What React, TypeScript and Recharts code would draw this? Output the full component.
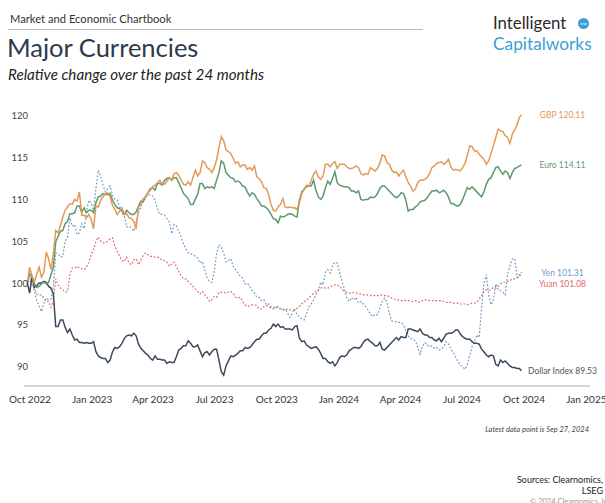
import React from 'react';
import { LineChart, Line, XAxis, YAxis } from 'recharts';

// Weekly readings (every Tuesday from Sep 27, 2022), last value = Sep 27, 2024
const START = Date.UTC(2022, 8, 27);
const WEEK = 7 * 86400000;
const LAST_DATE = Date.UTC(2024, 8, 27);

const gbp = [100.0, 100.8, 101.1, 100.7, 103.7, 101.6, 106.3, 106.9, 108.7, 109.5,
  110.0, 110.9, 108.1, 108.2, 106.5, 109.1, 110.3, 110.8, 109.3, 108.2,
  109.0, 108.3, 107.7, 106.5, 109.4, 110.3, 111.1, 111.7, 112.3, 111.8,
  112.6, 113.1, 112.9, 111.8, 112.1, 112.6, 112.8, 114.6, 113.8, 113.2,
  114.7, 117.5, 115.9, 115.5, 114.3, 113.9, 114.1, 113.8, 114.0, 112.5,
  111.4, 110.6, 108.7, 109.1, 110.1, 109.0, 109.0, 108.8, 110.7, 111.7,
  112.3, 113.4, 112.4, 114.2, 113.9, 114.5, 114.2, 114.2, 113.7, 113.8,
  113.8, 112.9, 113.0, 113.6, 113.7, 115.3, 114.4, 113.5, 113.3, 113.2,
  112.7, 111.6, 111.2, 112.3, 112.4, 113.1, 114.0, 114.4, 114.2, 114.8,
  113.5, 113.5, 113.8, 115.3, 116.3, 115.8, 115.1, 114.2, 115.5, 117.4,
  118.2, 117.6, 116.7, 118.3, 119.8, 120.11];
// Mid-week readings (half a week after each weekly reading)
const gbpMid = [101.9, 100.1, 101.9, 101.3, 102.9, 103.5, 106.0, 107.9, 109.1, 109.4,
  109.8, 108.1, 107.8, 107.6, 109.2, 109.9, 110.7, 110.3, 108.8, 108.6,
  108.2, 107.8, 107.4, 109.1, 110.1, 110.8, 111.5, 112.0, 111.8, 112.2,
  112.3, 113.2, 112.3, 111.7, 111.7, 113.5, 113.2, 114.4, 113.6, 113.8,
  116.2, 117.0, 115.7, 114.9, 114.5, 114.1, 113.6, 113.5, 112.7, 112.1,
  111.3, 109.4, 108.6, 109.4, 109.1, 109.1, 109.0, 109.6, 111.2, 111.6,
  113.0, 112.7, 112.8, 114.2, 114.3, 113.7, 114.2, 113.9, 113.7, 114.0,
  113.1, 113.1, 113.8, 113.4, 114.3, 115.2, 114.2, 113.2, 112.8, 113.5,
  112.0, 111.0, 112.0, 112.3, 112.6, 113.8, 114.3, 114.5, 114.4, 113.9,
  113.6, 113.4, 114.3, 116.4, 115.8, 115.4, 114.8, 114.6, 116.4, 118.4,
  118.1, 117.4, 117.8, 118.9];

const euro = [100.0, 100.7, 99.5, 99.9, 99.9, 101.0, 104.9, 106.2, 107.1, 108.3,
  108.4, 109.2, 109.0, 108.7, 108.4, 110.3, 110.7, 110.6, 109.9, 109.0,
  108.6, 108.7, 108.2, 108.5, 109.8, 110.4, 111.3, 111.1, 111.9, 112.3,
  112.6, 112.6, 112.0, 110.7, 110.1, 109.4, 110.6, 111.9, 111.5, 111.5,
  112.3, 114.6, 113.2, 112.6, 112.1, 112.0, 111.5, 110.4, 110.6, 109.7,
  109.2, 108.7, 107.7, 107.2, 107.9, 108.2, 108.2, 107.9, 110.9, 111.5,
  111.6, 111.1, 110.0, 111.4, 111.8, 113.3, 111.7, 111.5, 111.4, 111.0,
  111.0, 109.9, 110.0, 110.2, 110.7, 111.6, 111.3, 110.7, 110.2, 110.8,
  109.9, 108.8, 109.1, 109.7, 109.9, 110.6, 111.0, 110.8, 111.1, 110.3,
  109.5, 109.2, 110.0, 111.4, 111.5, 110.9, 110.3, 111.8, 112.6, 113.8,
  113.4, 113.4, 112.5, 113.7, 114.0, 114.11];
const euroMid = [101.1, 99.9, 99.6, 100.1, 100.1, 101.9, 105.6, 106.3, 107.4, 108.3,
  109.2, 108.5, 108.4, 108.7, 109.6, 110.4, 110.6, 110.7, 109.4, 108.9,
  108.2, 108.4, 108.2, 109.2, 109.7, 110.8, 111.4, 111.9, 111.7, 112.5,
  112.3, 112.6, 111.4, 110.4, 109.4, 110.0, 111.9, 111.3, 111.4, 111.3,
  113.2, 114.3, 112.9, 112.5, 112.2, 111.6, 110.9, 110.8, 110.1, 109.2,
  109.0, 108.2, 107.6, 108.0, 108.0, 108.3, 108.0, 109.9, 111.2, 111.6,
  112.3, 110.3, 110.4, 112.2, 112.5, 112.0, 111.6, 111.5, 111.0, 110.8,
  110.0, 110.0, 110.3, 110.3, 111.3, 111.6, 111.0, 110.4, 110.4, 110.7,
  108.6, 108.8, 109.3, 109.8, 110.2, 111.0, 111.1, 110.9, 110.8, 109.5,
  109.3, 109.4, 110.7, 111.2, 111.2, 110.6, 110.9, 112.4, 113.2, 113.9,
  113.0, 113.2, 113.2, 113.8];

const yen = [100.0, 100.1, 97.9, 96.6, 98.2, 98.1, 103.6, 103.1, 105.0, 107.8,
  107.0, 106.0, 106.5, 109.9, 108.7, 113.5, 111.7, 111.3, 110.5, 109.9,
  108.4, 106.7, 106.6, 107.3, 109.1, 110.1, 110.5, 109.9, 108.2, 108.1,
  107.3, 107.0, 106.2, 104.7, 103.6, 103.4, 103.0, 102.6, 100.6, 100.1,
  103.5, 104.3, 102.5, 102.9, 101.6, 100.8, 99.9, 99.6, 98.8, 98.3,
  98.0, 97.5, 97.1, 97.2, 96.8, 96.4, 96.4, 96.2, 95.7, 96.3,
  97.5, 98.6, 100.1, 101.3, 101.2, 102.5, 101.3, 99.3, 97.8, 98.0,
  97.6, 97.5, 96.8, 96.0, 96.2, 97.8, 97.7, 95.5, 95.4, 95.3,
  94.3, 93.4, 93.1, 91.5, 92.9, 92.4, 92.2, 92.0, 92.4, 92.7,
  91.7, 90.6, 90.0, 90.3, 92.4, 93.8, 97.0, 101.0, 97.4, 99.9,
  99.1, 98.6, 102.1, 102.9, 100.7, 101.31];
const yenMid = [100.9, 99.0, 97.3, 97.6, 98.0, 99.5, 103.5, 103.2, 105.5, 106.8,
  105.8, 107.1, 108.6, 109.5, 111.3, 112.8, 110.9, 111.6, 110.0, 109.2,
  108.0, 106.8, 106.2, 108.4, 109.9, 110.6, 110.4, 108.9, 108.2, 107.7,
  105.9, 106.8, 105.5, 104.1, 103.5, 103.2, 102.4, 101.6, 100.2, 101.4,
  104.6, 103.6, 102.7, 102.0, 101.2, 100.6, 100.0, 99.1, 98.3, 97.9,
  97.4, 97.2, 97.1, 97.0, 96.9, 95.9, 96.9, 96.0, 95.6, 97.2,
  98.0, 99.1, 99.8, 101.6, 102.1, 102.4, 100.2, 98.3, 98.3, 98.3,
  97.8, 97.2, 96.3, 96.3, 97.0, 98.2, 96.4, 95.4, 95.3, 95.0,
  93.7, 93.3, 92.4, 92.4, 92.6, 92.5, 92.3, 92.1, 93.0, 92.1,
  91.2, 90.2, 89.7, 91.4, 93.0, 93.5, 100.0, 98.6, 98.0, 99.2,
  98.9, 101.0, 102.9, 100.7];

const yuan = [100.0, 99.8, 98.7, 98.6, 97.8, 97.1, 100.5, 99.4, 98.9, 101.0,
  101.8, 101.8, 101.6, 102.5, 104.0, 105.5, 104.8, 105.0, 105.4, 103.8,
  102.7, 103.1, 102.2, 102.9, 102.8, 103.6, 103.2, 103.1, 103.0, 102.7,
  102.0, 102.5, 101.4, 100.5, 100.2, 99.6, 99.0, 99.0, 98.3, 98.0,
  98.3, 98.9, 98.8, 99.0, 98.3, 98.3, 97.4, 97.3, 97.4, 96.9,
  97.2, 97.2, 96.9, 97.0, 96.8, 96.9, 96.8, 97.0, 97.5, 97.9,
  98.5, 99.0, 99.4, 99.4, 99.5, 99.8, 99.6, 99.0, 98.8, 98.9,
  98.7, 98.6, 98.6, 98.5, 98.5, 98.6, 98.5, 98.2, 98.0, 97.9,
  97.9, 97.9, 97.9, 97.7, 98.0, 97.9, 97.9, 97.9, 97.8, 97.7,
  97.6, 97.6, 97.5, 97.4, 97.6, 97.7, 98.5, 99.2, 99.2, 99.4,
  99.9, 100.1, 100.3, 100.5, 101.0, 101.08];
const yuanMid = [100.3, 99.3, 98.6, 98.2, 97.8, 97.9, 99.8, 99.2, 99.0, 101.8,
  102.0, 101.7, 101.9, 103.4, 105.0, 105.0, 104.8, 105.3, 104.4, 103.2,
  102.6, 102.4, 102.8, 102.2, 103.3, 103.4, 103.2, 103.1, 102.7, 102.5,
  102.3, 102.0, 100.8, 100.5, 99.9, 99.3, 98.7, 98.6, 97.8, 98.4,
  98.9, 98.9, 98.9, 98.8, 98.2, 97.8, 97.2, 97.4, 97.3, 96.9,
  97.3, 97.0, 97.1, 96.9, 96.8, 96.8, 96.8, 97.2, 97.8, 98.2,
  98.8, 99.2, 99.5, 99.4, 99.7, 99.8, 99.3, 98.9, 98.8, 98.8,
  98.7, 98.6, 98.5, 98.5, 98.5, 98.5, 98.4, 98.1, 98.0, 97.9,
  97.9, 97.8, 97.8, 97.9, 98.0, 97.9, 97.9, 97.9, 97.7, 97.7,
  97.6, 97.5, 97.5, 97.5, 97.6, 98.1, 99.0, 99.1, 99.5, 99.6,
  100.1, 100.2, 100.5, 100.6];

const dollar = [100.0, 100.9, 99.7, 100.0, 100.1, 99.4, 94.8, 95.6, 94.7, 94.5,
  93.2, 92.9, 92.8, 92.8, 93.0, 91.3, 91.0, 90.5, 91.8, 92.2,
  92.8, 93.7, 93.7, 93.7, 92.2, 91.6, 91.0, 91.3, 90.9, 90.8,
  90.6, 90.5, 92.0, 92.5, 93.1, 92.4, 92.6, 91.2, 91.8, 91.8,
  92.1, 89.4, 90.1, 91.3, 91.4, 91.9, 92.3, 92.3, 93.0, 93.3,
  94.0, 94.4, 95.1, 95.1, 94.8, 94.5, 94.4, 94.9, 93.0, 92.6,
  92.2, 92.4, 91.6, 91.0, 90.4, 90.1, 91.1, 91.2, 91.9, 92.3,
  92.2, 92.9, 93.3, 92.8, 92.5, 92.1, 92.3, 92.9, 93.5, 93.6,
  93.5, 94.5, 94.3, 94.5, 93.8, 93.5, 93.2, 93.4, 93.4, 94.0,
  94.1, 94.4, 93.6, 93.3, 93.0, 92.8, 92.1, 91.4, 91.4, 90.3,
  90.8, 90.7, 90.1, 89.9, 89.8, 89.53];
const dollarMid = [98.8, 99.5, 100.0, 100.2, 99.6, 98.7, 94.8, 95.6, 94.1, 93.8,
  93.3, 92.9, 92.9, 92.8, 91.8, 91.1, 91.0, 90.8, 92.3, 92.4,
  93.4, 93.8, 94.0, 92.7, 91.9, 91.4, 90.8, 90.9, 90.8, 90.4,
  90.5, 91.2, 92.2, 92.5, 92.8, 92.4, 91.9, 91.7, 91.4, 92.1,
  90.8, 89.0, 90.7, 91.2, 91.6, 91.9, 92.2, 92.6, 93.3, 93.7,
  94.0, 94.6, 94.8, 94.7, 94.5, 94.5, 94.8, 93.4, 93.1, 92.4,
  92.3, 92.1, 91.0, 90.6, 90.6, 90.5, 91.3, 91.4, 92.1, 92.3,
  92.4, 93.2, 93.0, 92.5, 92.9, 92.0, 92.6, 93.2, 93.2, 93.5,
  94.5, 94.4, 94.2, 94.0, 93.8, 93.5, 93.1, 93.0, 93.9, 94.0,
  94.4, 93.9, 93.4, 93.3, 92.8, 92.7, 91.8, 91.2, 91.3, 90.1,
  90.5, 90.4, 89.9, 89.8];

const xTicks = [
  Date.UTC(2022, 9, 1), Date.UTC(2023, 0, 1), Date.UTC(2023, 3, 1), Date.UTC(2023, 6, 1),
  Date.UTC(2023, 9, 1), Date.UTC(2024, 0, 1), Date.UTC(2024, 3, 1), Date.UTC(2024, 6, 1),
  Date.UTC(2024, 9, 1), Date.UTC(2025, 0, 1),
];
const xDomain = [Date.UTC(2022, 8, 22, 2), Date.UTC(2025, 0, 6, 10)];
const yTicks = [90, 95, 100, 105, 110, 115, 120];
const MONTHS = ['Jan', 'Feb', 'Mar', 'Apr', 'May', 'Jun', 'Jul', 'Aug', 'Sep', 'Oct', 'Nov', 'Dec'];

const rows: any[] = [];
gbp.forEach((_, i) => {
  const t = i === gbp.length - 1 ? LAST_DATE : START + i * WEEK;
  rows.push({ t, gbp: gbp[i], euro: euro[i], yen: yen[i], yuan: yuan[i], dollar: dollar[i] });
});
gbpMid.forEach((_, i) => {
  rows.push({ t: START + (i + 0.5) * WEEK, gbp: gbpMid[i], euro: euroMid[i], yen: yenMid[i], yuan: yuanMid[i], dollar: dollarMid[i] });
});
const data = rows.sort((a, b) => a.t - b.t);

const FONT = 'Lato, "Noto Sans", sans-serif';

const fmtDate = (v: number) => {
  const d = new Date(v);
  return `${MONTHS[d.getUTCMonth()]} ${d.getUTCFullYear()}`;
};

const YTick = (props: any) => (
  <text x={props.x + 4} y={props.y} textAnchor="end" dominantBaseline="central"
    fontSize={9.5} fill="#444" fontFamily={FONT}>{props.payload.value}</text>
);

const XTick = (props: any) => (
  <text x={props.x} y={props.y + 9} textAnchor="middle"
    fontSize={10} fill="#333" fontFamily={FONT}>{fmtDate(props.payload.value)}</text>
);

const endLabels = [
  { text: 'GBP 120.11', y: 115, color: '#e39a58' },
  { text: 'Euro 114.11', y: 165, color: '#5e9a6e' },
  { text: 'Yen 101.31', y: 273, color: '#6e9cc8' },
  { text: 'Yuan 101.08', y: 283.5, color: '#e06a6a' },
  { text: 'Dollar Index 89.53', y: 370.5, color: '#555' },
];

export default function App() {
  return (
    <div style={{ position: 'absolute', left: 0, top: 0, width: 605, height: 503, background: '#fff', overflow: 'hidden', fontFamily: FONT }}>
      <div style={{ position: 'absolute', left: 0, top: 0 }}>
        <LineChart width={605} height={503} data={data} margin={{ top: 99, right: 15, bottom: 87, left: 0 }}>
          <XAxis dataKey="t" type="number" domain={xDomain} ticks={xTicks} interval={0}
            allowDataOverflow tickLine={false} axisLine={{ stroke: '#aaa' }} height={30}
            tick={<XTick />} />
          <YAxis type="number" domain={[87.7, 122]} ticks={yTicks} width={24} interval={0}
            allowDataOverflow tickLine={false} axisLine={false} tickSize={0} tickMargin={0}
            tick={<YTick />} />
          <Line dataKey="yuan" stroke="#e06a6a" strokeWidth={1.2} strokeDasharray="1.8 1.8" dot={false} isAnimationActive={false} />
          <Line dataKey="yen" stroke="#6e9cc8" strokeWidth={1.2} strokeDasharray="1.8 1.8" dot={false} isAnimationActive={false} />
          <Line dataKey="dollar" stroke="#3b4a5c" strokeWidth={1.5} dot={false} isAnimationActive={false} />
          <Line dataKey="euro" stroke="#5e9a6e" strokeWidth={1.5} dot={false} isAnimationActive={false} />
          <Line dataKey="gbp" stroke="#e39a58" strokeWidth={1.5} dot={false} isAnimationActive={false} />
        </LineChart>
      </div>
      <svg width={605} height={503} style={{ position: 'absolute', left: 0, top: 0, pointerEvents: 'none' }} fontFamily={FONT}>
        <text x={10} y={22.5} fontSize={11.2} fill="#333">Market and Economic Chartbook</text>
        <line x1={8} x2={423} y1={29.5} y2={29.5} stroke="#bbb" strokeWidth={1} />
        <text x={7} y={57} fontSize={25.5} fill="#2c3a4b">Major Currencies</text>
        <text x={8} y={79.5} fontSize={15.2} fontStyle="italic" fill="#222">Relative change over the past 24 months</text>
        <text x={493} y={29.3} fontSize={16.8} fill="#2a2a2a">Intelligent</text>
        <circle cx={583.5} cy={23.5} r={5.5} fill="#3b9fd6" />
        <text x={583.5} y={25} fontSize={4.5} fill="#fff" textAnchor="middle">icw</text>
        <text x={493} y={50} fontSize={17.3} fill="#3b9fd6">Capitalworks</text>
        {endLabels.map((l) => (
          <text key={l.text} x={562.5} y={l.y} fontSize={8.5} fill={l.color} textAnchor="middle" dominantBaseline="central">{l.text}</text>
        ))}
        <text x={589} y={431.5} fontSize={7.5} fontStyle="italic" fill="#444" textAnchor="end">Latest data point is Sep 27, 2024</text>
        <text x={603} y={483} fontSize={9} fill="#222" textAnchor="end">Sources: Clearnomics,</text>
        <text x={603} y={494} fontSize={9} fill="#222" textAnchor="end">LSEG</text>
        <text x={530} y={504} fontSize={7.5} fill="#999">© 2024 Clearnomics, Inc.</text>
      </svg>
    </div>
  );
}
